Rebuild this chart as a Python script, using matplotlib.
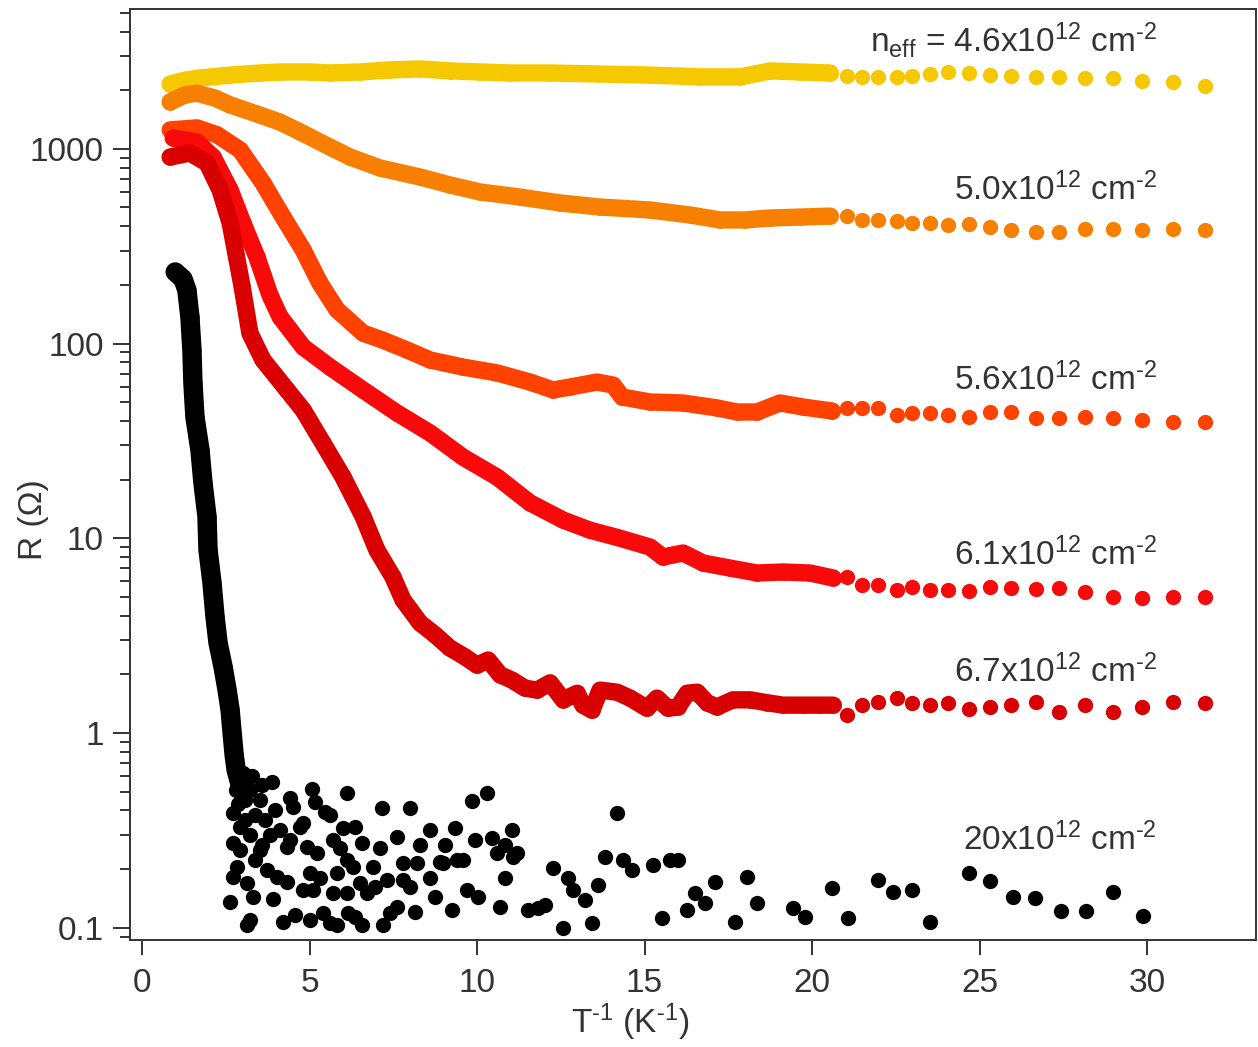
import numpy as np
import matplotlib.pyplot as plt
from matplotlib.ticker import FixedLocator, FuncFormatter, LogLocator, NullFormatter

plt.rcParams["font.family"] = ["Liberation Sans", "DejaVu Sans"]
plt.rcParams["mathtext.fontset"] = "custom"
plt.rcParams["mathtext.rm"] = "Liberation Sans"
plt.rcParams["mathtext.it"] = "Liberation Sans:italic"
plt.rcParams["mathtext.bf"] = "Liberation Sans:bold"

# low-temperature tail, same T points for all five coloured curves
tail_x = [21.04, 21.49, 21.97, 22.54, 22.99, 23.52, 24.06, 24.69, 25.31, 25.94,
          26.69, 27.37, 28.15, 28.99, 29.85, 30.78, 31.73]

# n_eff = 4.6e12
yellow_x = [0.84, 1.28, 1.73, 2.63, 3.52, 4.12, 5.01, 5.61, 6.51, 7.40, 8.30,
            9.19, 10.09, 10.99, 12.18, 13.67, 15.16, 16.66, 17.85, 18.75, 19.64, 20.54]
yellow_r = [2150, 2250, 2310, 2390, 2450, 2480, 2480, 2450, 2480, 2540, 2570,
            2510, 2480, 2450, 2450, 2420, 2390, 2340, 2340, 2510, 2480, 2450]
yellow_tail = [2360, 2340, 2340, 2340, 2360, 2420, 2480, 2450, 2390, 2360,
               2340, 2340, 2310, 2310, 2230, 2200, 2100]

# 5.0e12
orange_x = [0.84, 1.28, 1.64, 2.18, 2.63, 3.52, 4.12, 4.72, 5.61, 6.21, 7.10, 8.30,
            9.19, 10.09, 11.28, 12.48, 13.67, 15.16, 16.36, 17.25, 18.0, 18.75, 19.64, 20.54]
orange_r = [1740, 1890, 1930, 1820, 1680, 1490, 1370, 1220, 1020, 907, 797, 716,
            652, 600, 565, 527, 502, 485, 457, 431, 431, 441, 446, 451]
orange_tail = [451, 431, 431, 426, 416, 416, 406, 411, 397, 383,
               374, 374, 387, 387, 383, 387, 383]

# 5.6e12
orangered_x = [0.84, 1.64, 2.24, 2.93, 3.61, 4.21, 4.81, 5.31, 5.82, 6.60, 7.19, 7.91,
               8.60, 9.58, 10.60, 11.58, 12.27, 12.78, 13.58, 14.06, 14.33, 15.16,
               16.15, 17.16, 17.76, 18.36, 19.04, 19.73, 20.60]
orangered_r = [1250, 1280, 1180, 985, 667, 446, 302, 204, 149, 113, 104, 92.6,
               82.3, 75.7, 70.6, 63.4, 57.7, 59.8, 63.4, 61.2, 53.1, 50.1,
               49.5, 46.7, 44.5, 44.5, 49.5, 47.2, 45.0]
orangered_tail = [46.7, 46.7, 46.7, 42.9, 44.0, 44.0, 42.9, 41.9, 44.5, 44.5,
                  41.4, 41.4, 41.9, 41.4, 40.5, 39.5, 39.5]

# 6.1e12
red_x = [0.93, 1.64, 2.12, 2.63, 3.01, 3.43, 3.82, 4.12, 4.81, 5.61, 6.60, 7.61,
         8.60, 9.58, 10.60, 11.58, 12.57, 13.37, 14.18, 15.16, 15.55, 16.15,
         16.75, 17.55, 18.36, 19.13, 19.94, 20.63]
red_r = [1136, 1083, 907, 614, 416, 278, 177, 137, 95.9, 75.7, 57.7, 44.0,
         34.7, 26.1, 20.6, 15.2, 12.4, 11.0, 10.1, 9.02, 8.01, 8.40,
         7.46, 7.03, 6.63, 6.71, 6.63, 6.25]
red_tail = [6.32, 5.75, 5.75, 5.42, 5.62, 5.42, 5.42, 5.36, 5.62, 5.55,
            5.49, 5.55, 5.30, 4.99, 4.93, 4.99, 4.99]

# 6.7e12
darkred_x = [0.84, 1.43, 1.94, 2.33, 2.63, 2.81, 2.99, 3.22, 3.61, 4.33, 4.81, 5.40,
             6.00, 6.60, 7.01, 7.49, 7.79, 8.30, 8.75, 9.19, 9.64, 10.0, 10.33,
             10.69, 11.04, 11.43, 11.79, 12.18, 12.57, 12.99, 13.16, 13.43, 13.67,
             14.18, 14.57, 15.07, 15.37, 15.70, 16.0, 16.27, 16.57, 16.87, 17.16,
             17.64, 18.15, 18.66, 19.13, 19.73, 20.24, 20.63]
darkred_r = [907, 951, 845, 614, 416, 285, 195, 113, 82.3, 57.7, 45.5, 30.8,
             20.6, 12.9, 8.70, 6.32, 4.82, 3.67, 3.19, 2.73, 2.46, 2.23, 2.37,
             1.99, 1.87, 1.70, 1.66, 1.81, 1.48, 1.60, 1.39, 1.31, 1.66,
             1.62, 1.51, 1.34, 1.51, 1.34, 1.36, 1.60, 1.62, 1.43, 1.36,
             1.48, 1.48, 1.43, 1.39, 1.39, 1.39, 1.39]
darkred_tail = [1.24, 1.39, 1.44, 1.51, 1.43, 1.39, 1.43, 1.33, 1.36, 1.39,
                1.44, 1.28, 1.39, 1.28, 1.36, 1.44, 1.43]

# 20e12: steep part plus the noisy cloud
black_x = [0.99, 1.22, 1.34, 1.43, 1.49, 1.52, 1.58, 1.73, 1.82, 1.94, 1.97,
           2.09, 2.18, 2.27, 2.42, 2.54, 2.63, 2.69, 2.75, 2.81, 2.93]
black_r = [233, 215, 188, 137, 92.6, 62.7, 41.9, 28.4, 19.2, 12.9, 8.70,
           5.89, 3.94, 2.90, 2.18, 1.66, 1.31, 1.00, 0.771, 0.646, 0.541]
cloud_x = [3.01, 3.22, 3.52, 3.37, 3.67, 3.07, 3.97, 3.82, 3.22, 4.12, 3.58, 4.42,
           2.93, 3.37, 2.81, 2.87, 3.07, 3.28, 3.58,
           3.88, 5.07, 6.12, 7.16, 4.42, 4.51, 5.16, 5.46, 5.61, 4.72, 4.81, 6.00,
           6.36, 7.61, 6.57, 7.10, 2.72, 2.93, 2.72, 3.52, 4.33, 4.93, 5.22, 5.70,
           5.91, 6.30, 6.90, 6.12, 2.84, 2.72, 3.13, 3.73, 4.03, 4.33, 5.01, 5.31,
           4.81, 5.10, 5.82, 5.70, 6.12, 6.51, 7.31, 6.96, 6.72, 2.63, 3.31, 3.91,
           3.22, 3.13, 4.21, 4.57, 5.01, 5.40, 5.61, 5.82, 6.15, 6.36, 6.57, 7.19,
           7.40, 7.61,
           8.0, 8.6, 9.04, 9.34, 8.3, 9.85, 10.3, 9.94, 10.45, 10.84, 11.04, 8.9,
           7.79, 8.21, 7.79, 8.0, 8.6, 8.75, 8.15, 8.99, 9.40, 9.58, 9.25, 9.70,
           10.03, 10.60, 11.07, 11.19, 10.84, 10.69, 11.52, 11.82, 12.03, 12.27,
           12.72, 12.87, 13.22, 12.57, 13.43, 13.61, 13.82, 14.36, 14.63, 14.18,
           15.25, 15.76, 16.0, 15.52, 16.27, 16.51, 16.81, 17.10, 17.70, 18.06,
           18.36, 19.43, 19.79, 20.60, 21.07, 21.97, 22.42, 22.99, 23.52, 24.69,
           25.31, 26.0, 26.66, 27.43, 28.18, 28.99, 29.88]
cloud_r = [0.623, 0.51, 0.454, 0.379, 0.357, 0.454, 0.40, 0.30, 0.30, 0.318, 0.266, 0.282,
           0.25, 0.223, 0.51, 0.43, 0.357, 0.60, 0.54,
           0.560, 0.516, 0.492, 0.412, 0.464, 0.417, 0.442, 0.393, 0.379, 0.329, 0.345, 0.325,
           0.329, 0.292, 0.272, 0.257, 0.388, 0.329, 0.272, 0.251, 0.260, 0.260, 0.242, 0.282,
           0.257, 0.205, 0.205, 0.223, 0.205, 0.182, 0.170, 0.198, 0.182, 0.172, 0.191, 0.180,
           0.156, 0.156, 0.191, 0.151, 0.151, 0.170, 0.176, 0.162, 0.151, 0.136, 0.144, 0.140,
           0.1096, 0.1033, 0.107, 0.116, 0.1096, 0.119, 0.1058, 0.1033, 0.119, 0.1136, 0.1033, 0.1033,
           0.119, 0.128,
           0.41, 0.318, 0.266, 0.325, 0.266, 0.45, 0.49, 0.282, 0.29, 0.266, 0.318, 0.218,
           0.215, 0.215, 0.176, 0.162, 0.180, 0.144, 0.120, 0.215, 0.223, 0.223, 0.123, 0.156,
           0.144, 0.242, 0.231, 0.242, 0.180, 0.128, 0.123, 0.126, 0.131, 0.203,
           0.180, 0.156, 0.139, 0.0997, 0.1058, 0.166, 0.231, 0.223, 0.198, 0.388,
           0.210, 0.223, 0.223, 0.112, 0.123, 0.151, 0.134, 0.172, 0.107, 0.182,
           0.134, 0.126, 0.1136, 0.160, 0.112, 0.176, 0.153, 0.156, 0.107, 0.191,
           0.174, 0.144, 0.142, 0.122, 0.122, 0.153, 0.115]

labels = [r"n$_{\text{eff}}$ = 4.6x10$^{12}$ cm$^{\text{-}2}$",
          r"5.0x10$^{12}$ cm$^{\text{-}2}$",
          r"5.6x10$^{12}$ cm$^{\text{-}2}$",
          r"6.1x10$^{12}$ cm$^{\text{-}2}$",
          r"6.7x10$^{12}$ cm$^{\text{-}2}$",
          r"20x10$^{12}$ cm$^{\text{-}2}$"]
label_r = [3140, 546, 57.7, 7.29, 1.83, 0.251]

text_color = "#333333"
ms = 11
band = 12.5

fig = plt.figure(figsize=(12.58, 10.47), dpi=100)
ax = fig.add_axes([0.1033, 0.1022, 0.8951, 0.8892])

curves = [
    (yellow_x, yellow_r, yellow_tail, "#F6C800"),
    (orange_x, orange_r, orange_tail, "#F88000"),
    (orangered_x, orangered_r, orangered_tail, "#FF4200"),
    (red_x, red_r, red_tail, "#F80A0A"),
    (darkred_x, darkred_r, darkred_tail, "#D80000"),
]
for x, r, tail, color in curves:
    ax.plot(x, r, "-", color=color, lw=band, solid_capstyle="round", solid_joinstyle="round")
    ax.plot(x, r, "o", color=color, ms=ms + 1, mew=0)
    ax.plot(tail_x, tail, "o", color=color, ms=ms, mew=0)

ax.plot(black_x, black_r, "-", color="black", lw=band + 1.5, solid_capstyle="round", solid_joinstyle="round")
ax.plot(black_x, black_r, "o", color="black", ms=ms + 2, mew=0)
ax.plot(cloud_x, cloud_r, "o", color="black", ms=ms, mew=0)

for text, r in zip(labels, label_r):
    ax.text(30.3, r, text, ha="right", va="baseline", fontsize=24, color=text_color)

ax.set_yscale("log")
ax.set_xlim(-0.36, 33.25)
ax.set_ylim(0.0865, 5220)

ax.xaxis.set_major_locator(FixedLocator([0, 5, 10, 15, 20, 25, 30]))
ax.yaxis.set_major_locator(FixedLocator([0.1, 1, 10, 100, 1000]))
ax.yaxis.set_major_formatter(FuncFormatter(lambda v, _: f"{v:g}"))
ax.yaxis.set_minor_locator(LogLocator(base=10, subs=np.arange(2, 10), numticks=20))
ax.yaxis.set_minor_formatter(NullFormatter())

ax.tick_params(axis="both", which="both", direction="out", colors="#333333",
               labelcolor=text_color, labelsize=24, width=1.4)
ax.tick_params(axis="y", which="major", length=12, pad=7)
ax.tick_params(axis="y", which="minor", length=7)
ax.tick_params(axis="x", which="major", length=11, pad=9)

for side in ["left", "right", "top", "bottom"]:
    ax.spines[side].set_color("#333333")
    ax.spines[side].set_linewidth(1.4)

ax.set_xlabel(r"T$^{\text{-}1}$ (K$^{\text{-}1}$)", fontsize=24, color=text_color)
ax.set_ylabel("R (Ω)", fontsize=24, color=text_color)
ax.xaxis.set_label_coords(0.444, -0.066)
ax.yaxis.set_label_coords(-0.072, 0.451)

fig.savefig("out.png", dpi=100)
